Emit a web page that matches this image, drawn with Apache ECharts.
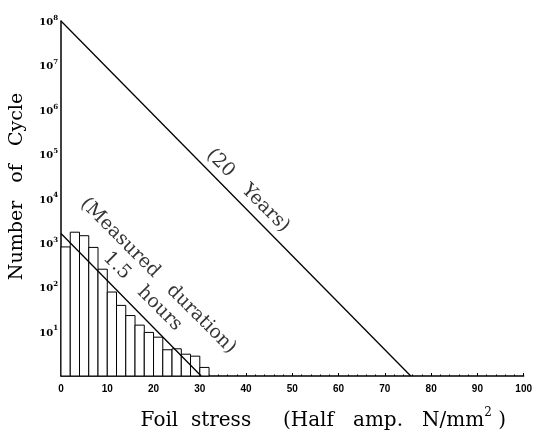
<!DOCTYPE html>
<html>
<head>
<meta charset="utf-8">
<title>Foil stress</title>
<script src="https://cdn.jsdelivr.net/npm/echarts@6/dist/echarts.min.js"></script>
<style>
  html, body { margin: 0; padding: 0; background: #fff; }
  #chart { width: 535px; height: 436px; }
</style>
</head>
<body>
<div id="chart"></div>
<script>
  /* histogram bins (stress, N/mm2), each 2 wide */
  var binStart = [0, 2, 4, 6, 8, 10, 12, 14, 16, 18, 20, 22, 24, 26, 28, 30];
  var binWidth = 2;
  /* measured cycle counts (1.5 hours) */
  var cycleCount = [810, 1740, 1450, 790, 255, 78, 39, 23, 14, 9.6, 7.5, 3.9, 4.1, 3.1, 2.8, 1.56];

  /* S-N lines: [stress, cycles] end points */
  var yearsLine = [[0, 1e8], [75.6, 1]];
  var measuredLine = [[0, 1620], [30.3, 1]];

  /* annotation anchors */
  var yearsLabelPos = [40.4, 15000];
  var measuredLabelPos = [19.3, 120];

  var xTicks = [0, 10, 20, 30, 40, 50, 60, 70, 80, 90, 100];

  var serif = '"DejaVu Serif", "Liberation Serif", serif';

  var barData = binStart.map(function (s, i) {
    return [s, s + binWidth, cycleCount[i]];
  });

  var chart = echarts.init(document.getElementById('chart'));

  var option = {
    animation: false,
    backgroundColor: '#fff',
    grid: { left: 61, right: 11, top: 21, bottom: 55 },

    xAxis: {
      type: 'value',
      min: xTicks[0],
      max: xTicks[xTicks.length - 1],
      interval: 10,
      name: '{t|Foil  stress     (Half   amp.   N/mm}{s|2}{t| )}',
      nameLocation: 'middle',
      nameGap: 31,
      nameTextStyle: {
        padding: [0, 0, 0, 62],
        rich: {
          t: { fontFamily: serif, fontSize: 20, color: '#000', lineHeight: 24, verticalAlign: 'bottom' },
          s: { fontFamily: serif, fontSize: 12, color: '#000', lineHeight: 24, verticalAlign: 'top' }
        }
      },
      axisLine: { lineStyle: { color: '#000', width: 1.5 } },
      axisTick: { show: true, inside: true, length: 3, lineStyle: { color: '#000' } },
      minorTick: { show: true, splitNumber: 5, length: 1.5, lineStyle: { color: '#000' } },
      splitLine: { show: false },
      axisLabel: {
        color: '#000',
        fontSize: 10,
        fontWeight: 'bold',
        fontFamily: '"Liberation Sans", Arial, sans-serif',
        margin: 8
      }
    },

    yAxis: {
      type: 'log',
      logBase: 10,
      min: 1,
      max: 1e8,
      name: 'Number   of   Cycle',
      nameLocation: 'middle',
      nameGap: 34,
      nameTextStyle: { fontFamily: serif, fontSize: 19, color: '#000', padding: [0, 0, 0, 24] },
      axisLine: { show: true, lineStyle: { color: '#000', width: 1.5 } },
      axisTick: { show: false },
      splitLine: { show: false },
      axisLabel: {
        margin: 3,
        formatter: function (v) {
          var e = Math.round(Math.log10(v));
          if (e === 0) return '';
          return '{b|10}{e|' + e + '}';
        },
        rich: {
          b: { fontFamily: serif, fontSize: 10, fontWeight: 'bold', color: '#000', lineHeight: 13, verticalAlign: 'bottom' },
          e: { fontFamily: serif, fontSize: 7, fontWeight: 'bold', color: '#000', lineHeight: 13, verticalAlign: 'top' }
        }
      }
    },

    series: [
      {
        /* histogram of measured stress */
        type: 'custom',
        name: 'measured',
        data: barData,
        encode: { x: [0, 1], y: 2 },
        renderItem: function (params, api) {
          var topLeft = api.coord([api.value(0), api.value(2)]);
          var bottomRight = api.coord([api.value(1), 1]);
          return {
            type: 'rect',
            shape: {
              x: topLeft[0],
              y: topLeft[1],
              width: bottomRight[0] - topLeft[0],
              height: bottomRight[1] - topLeft[1]
            },
            style: { fill: '#fff', stroke: '#000', lineWidth: 1 }
          };
        },
        z: 2
      },
      {
        type: 'line',
        name: '20 years',
        data: yearsLine,
        symbol: 'none',
        lineStyle: { color: '#000', width: 1.3 },
        z: 3
      },
      {
        type: 'line',
        name: 'measured line',
        data: measuredLine,
        symbol: 'none',
        lineStyle: { color: '#000', width: 1.3 },
        z: 3
      },
      {
        /* rotated text along the lines */
        type: 'scatter',
        symbolSize: 0,
        silent: true,
        data: [
          { value: yearsLabelPos, name: '(20   Years)' },
          { value: measuredLabelPos, name: '(Measured   duration)\n1.5   hours' }
        ],
        label: {
          show: true,
          position: 'inside',
          rotate: -45,
          formatter: '{b}',
          fontFamily: serif,
          fontSize: 19,
          lineHeight: 22,
          align: 'center',
          verticalAlign: 'middle',
          color: '#000'
        },
        z: 4
      }
    ]
  };

  chart.setOption(option);
</script>
</body>
</html>
